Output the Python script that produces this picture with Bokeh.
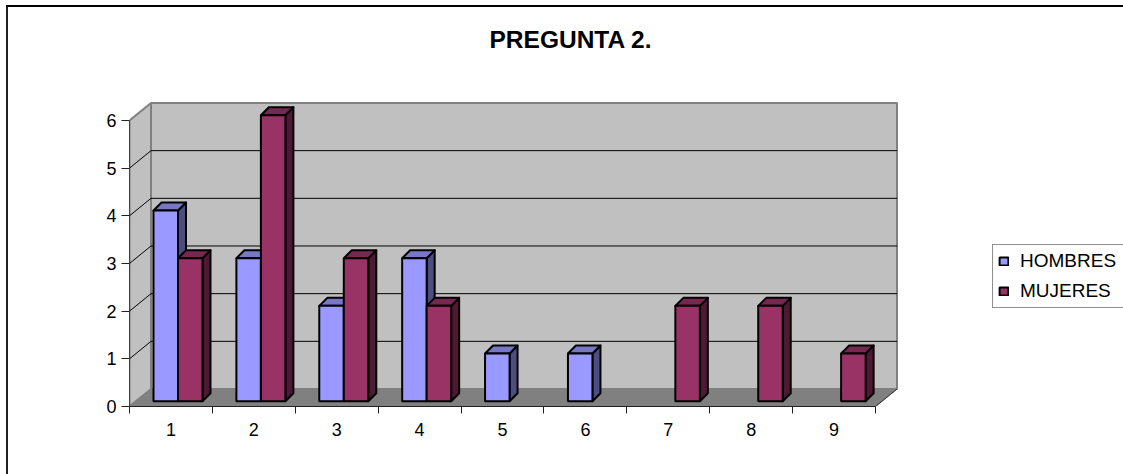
from bokeh.plotting import figure
from bokeh.models import (FixedTicker, LinearAxis, Legend, LegendItem, Range1d, Title)
from bokeh.embed import file_html
from bokeh.resources import INLINE

categories = [1, 2, 3, 4, 5, 6, 7, 8, 9]
hombres = [4, 3, 2, 3, 1, 1, 0, 0, 0]
mujeres = [3, 6, 3, 2, 0, 0, 2, 2, 1]
y_ticks = [0, 1, 2, 3, 4, 5, 6]
title_text = "PREGUNTA 2."

FONT = "Liberation Sans"
BLUE, BLUE_TOP, BLUE_SIDE = "#9999FF", "#7777C4", "#4D4D80"
RED, RED_TOP, RED_SIDE = "#993366", "#772850", "#4D1933"
WALL, FLOOR, EDGE = "#C0C0C0", "#808080", "#808080"

# 3D projection offsets, in axis units
UX, UY = 82.89, 47.67           # pixels per unit
DX, DY = 21.5 / UX, 17.5 / UY   # full depth of the plot box
BX, BY = 6.5 / UX, 5.3 / UY     # front plane of the bars
CX, CY = 8.0 / UX, 8.0 / UY     # depth of a bar
BAR_W = 24.5 / UX
BAR_L = 17.5 / UX               # gap from the category edge to the first bar

p = figure(width=1123, height=494, output_backend="svg", toolbar_location=None,
           x_range=Range1d(0.5, 0.5 + 994 / UX), y_range=Range1d(0, 316 / UY),
           frame_width=994, frame_height=316,
           min_border_left=129, min_border_right=0, min_border_top=110, min_border_bottom=68,
           x_axis_location=None, y_axis_location=None, background_fill_color=None,
           border_fill_color=None)
# chart-area frame: only its top and left edges fall inside the picture
p.styles = {"position": "absolute", "left": "0px", "top": "-20px",
            "background": "linear-gradient(#000,#000) 6px 25px/1117px 2px no-repeat,"
                          "linear-gradient(#202020,#202020) 6px 25px/2px 469px no-repeat,"
                          "#ffffff"}
p.outline_line_color = None
p.grid.visible = False

x0, x1 = categories[0] - 0.5, categories[-1] + 0.5
ymax = max(y_ticks)

# walls and floor
p.patch([x0, x0 + DX, x0 + DX, x0], [0, DY, ymax + DY, ymax],
        fill_color=WALL, line_color=EDGE, line_width=2)
p.patch([x0 + DX, x1 + DX, x1 + DX, x0 + DX], [DY, DY, ymax + DY, ymax + DY],
        fill_color=WALL, line_color=EDGE, line_width=2)
p.patch([x0, x1, x1 + DX, x0 + DX], [0, 0, DY, DY],
        fill_color=FLOOR, line_color=FLOOR, line_width=1)
p.line([x1, x1 + DX], [0, DY], line_color="#303030", line_width=1)

# gridlines
inner = [v for v in y_ticks if 0 < v < ymax]
p.multi_line([[x0, x0 + DX, x1 + DX] for v in inner],
             [[v, v + DY, v + DY] for v in inner], line_color="#000000", line_width=1)


def draw(values, offset, front, top, side):
    xs = [c - 0.5 + BAR_L + offset * BAR_W + BX for c, v in zip(categories, values) if v > 0]
    vs = [v for v in values if v > 0]
    sx, sy, tx, ty = [], [], [], []
    for x, v in zip(xs, vs):
        r = x + BAR_W
        sx.append([r, r + CX, r + CX, r])
        sy.append([BY, BY + CY, v + BY + CY, v + BY])
        tx.append([x, x + CX, r + CX, r])
        ty.append([v + BY, v + BY + CY, v + BY + CY, v + BY])
    p.patches(sx, sy, fill_color=side, line_color="#000000", line_width=2, line_join="round")
    p.patches(tx, ty, fill_color=top, line_color="#000000", line_width=2, line_join="round")
    return p.quad(left=xs, right=[x + BAR_W for x in xs], bottom=[BY] * len(xs),
                  top=[v + BY for v in vs], fill_color=front,
                  line_color="#000000", line_width=2)


r_h = draw(hombres, 0, BLUE, BLUE_TOP, BLUE_SIDE)
r_m = draw(mujeres, 1, RED, RED_TOP, RED_SIDE)

# axes
xa = LinearAxis(ticker=FixedTicker(ticks=categories, minor_ticks=[c - 0.5 for c in categories] + [x1]),
                bounds=(x0, x1))
xa.major_tick_out = 0
xa.major_tick_in = 0
xa.minor_tick_out = 7
xa.minor_tick_in = 0
xa.minor_tick_line_color = "#202020"
xa.axis_line_color = "#202020"
xa.major_label_standoff = 9
xa.major_label_text_font = FONT
xa.major_label_text_font_size = "18px"
xa.major_label_text_color = "#000000"
p.add_layout(xa, "below")

ya = LinearAxis(ticker=FixedTicker(ticks=y_ticks), bounds=(0, ymax))
ya.major_tick_out = 8
ya.major_tick_in = 0
ya.minor_tick_out = 0
ya.minor_tick_in = 0
ya.major_tick_line_color = "#202020"
ya.axis_line_color = "#404040"
ya.major_label_standoff = 5
ya.major_label_text_font = FONT
ya.major_label_text_font_size = "18px"
ya.major_label_text_color = "#000000"
p.add_layout(ya, "left")

# title
p.title = Title(text=title_text, align="left", offset=360, standoff=75,
                text_font=FONT, text_font_size="24.5px", text_font_style="bold", text_color="#000000")

# legend
leg = Legend(items=[LegendItem(label="HOMBRES", renderers=[r_h]), LegendItem(label="MUJERES", renderers=[r_m])],
             location=(863, 98), orientation="vertical", padding=5, spacing=8, margin=0,
             glyph_width=11, glyph_height=10, label_height=20, label_standoff=11, label_width=112,
             label_text_font=FONT, label_text_font_size="19px", label_text_color="#000000",
             border_line_color="#202020", border_line_width=1.5, background_fill_color="#FFFFFF",
             background_fill_alpha=1.0)
p.add_layout(leg, "center")

open("out.html", "w").write(file_html(p, INLINE))
